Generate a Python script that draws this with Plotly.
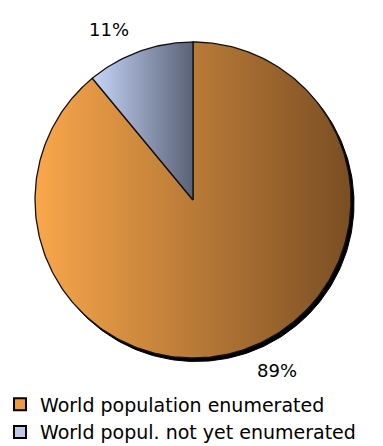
import numpy as np
import plotly.graph_objects as go

# ---- data ----
labels = ["World population enumerated", "World popul. not yet enumerated"]
values = [89, 11]
pct_text = ["89%", "11%"]
light_colors = ["#F9A74B", "#C6D5F9"]
dark_colors = ["#7A4E23", "#5A6276"]
legend_colors = ["#EE9A42", "#BCC8E6"]

# ---- geometry (data units, radius = 1) ----
W, H = 383, 446
R_PX = 158.0
CX_PX, CY_PX = 193.0, 200.0
x_range = [-CX_PX / R_PX, (W - CX_PX) / R_PX]
y_range = [-(H - CY_PX) / R_PX, CY_PX / R_PX]

fig = go.Figure()

total = float(sum(values))
fracs = [v / total for v in values]

# drop shadow behind the pie
sh = np.linspace(0, 2 * np.pi, 361)
dx, dy = 3.0 / R_PX, -3.5 / R_PX
fig.add_trace(go.Scatter(
    x=np.sin(sh) + dx, y=np.cos(sh) + dy, mode="lines", fill="toself",
    fillcolor="#000000", line=dict(color="#000000", width=1),
    hoverinfo="skip", showlegend=False))

# pie wedges, clockwise from 12 o'clock
start = 0.0
mids = []
for i, f in enumerate(fracs):
    a0, a1 = start, start + f * 2 * np.pi
    th = np.linspace(a0, a1, max(int(f * 360), 8))
    xs = np.concatenate([[0], np.sin(th), [0]])
    ys = np.concatenate([[0], np.cos(th), [0]])
    fig.add_trace(go.Scatter(
        x=xs, y=ys, mode="lines", fill="toself",
        fillgradient=dict(type="horizontal",
                          colorscale=[[0, light_colors[i]], [1, dark_colors[i]]]),
        line=dict(color="#111111", width=1.3),
        hoverinfo="skip", showlegend=False))
    mids.append((a0 + a1) / 2)
    start = a1

# legend entries
for i, lab in enumerate(labels):
    fig.add_trace(go.Scatter(
        x=[None], y=[None], mode="markers", name=lab,
        marker=dict(symbol="square", size=14, color=legend_colors[i],
                    line=dict(color="#000000", width=1.3))))

# percentage labels outside
for i, m in enumerate(mids):
    r = 1.15
    x, y = r * np.sin(m), r * np.cos(m)
    fig.add_annotation(x=x, y=y, text=pct_text[i], showarrow=False,
                       xanchor="left" if x >= 0 else "right", yanchor="middle",
                       font=dict(family="DejaVu Sans", size=18, color="#000000"))

fig.update_layout(
    width=W, height=H, margin=dict(l=0, r=0, t=0, b=0, autoexpand=False),
    paper_bgcolor="white", plot_bgcolor="white",
    xaxis=dict(range=x_range, visible=False, fixedrange=True),
    yaxis=dict(range=y_range, visible=False, fixedrange=True),
    showlegend=True,
    legend=dict(x=0.0, y=-0.012, xanchor="left", yanchor="bottom",
                bgcolor="rgba(0,0,0,0)", tracegroupgap=0,
                font=dict(family="DejaVu Sans", size=19, color="#000000"),
                itemsizing="constant"),
)

fig.write_html("out.html")
